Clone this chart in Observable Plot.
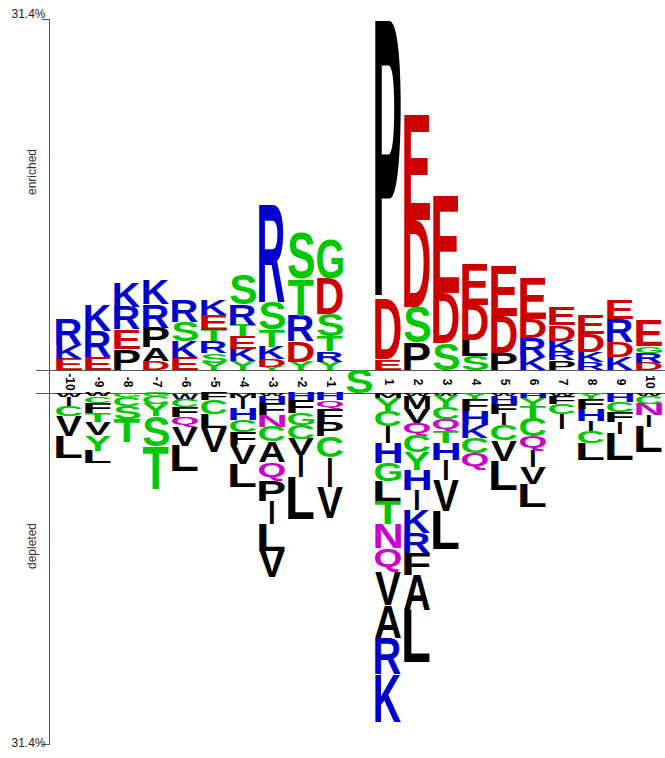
<!DOCTYPE html>
<html>
<head>
<meta charset="utf-8">
<script src="https://cdn.jsdelivr.net/npm/d3@7"></script>
<script src="https://cdn.jsdelivr.net/npm/@observablehq/plot@0.6"></script>
<style>
  body { margin: 0; background: #fff; }
  #chart svg { display: block; }
</style>
</head>
<body>
<div id="chart"></div>
<script>
// Sequence positions relative to the fixed central residue
const positions = d3.range(-10, 11);
const centerResidue = "S";

// Over-represented residues per position, listed from the axis outward
const upLetters = [
  "EKR", "ERK", "PERK", "DAPRK", "EKSR", "YSRTEK", "YKETRS", "YDKTSR", "YDRTS", "YRTSDG",
  "",
  "EDP", "PSDE", "SDE", "SLDE", "PDE", "KRDE", "PRKDE", "RKDE", "KDRE", "DRGE"
];
const upHeights = [
  [1.0, 1.25, 2.3],
  [1.15, 2.3, 2.3],
  [1.9, 1.75, 2.0, 2.25],
  [0.8, 1.2, 1.8, 2.1, 2.15],
  [1.1, 1.5, 1.7, 1.9],
  [0.65, 0.85, 1.05, 1.05, 1.35, 1.4],
  [0.8, 1.1, 1.1, 1.05, 1.8, 2.75],
  [0.3, 0.7, 1.1, 1.5, 2.5, 8.75],
  [0.75, 1.85, 2.25, 3.3, 4.1],
  [0.75, 0.95, 1.35, 1.95, 3.15, 3.5],
  [],
  [0.95, 5.4, 24.95],
  [2.45, 3.15, 7.8, 9.4],
  [2.4, 4.5, 8.75],
  [1.25, 1.45, 3.15, 3.6],
  [1.55, 3.3, 4.5],
  [1.15, 1.75, 1.65, 3.65],
  [0.85, 0.75, 1.0, 1.4, 1.55],
  [0.7, 0.9, 1.6, 1.7],
  [1.15, 1.35, 2.05, 1.7],
  [0.65, 0.9, 0.6, 2.3]
];

// Under-represented residues per position, listed from the axis outward
const downLetters = [
  "WICVL", "WCFTVYL", "GCST", "GCYST", "WCFQVL", "FCLV", "MIHCFVL", "WHFNCAQPILV", "HFGCVIL", "HQFPCIV",
  "",
  "MYCIHGLTNQVARK", "WMVQCYHIKRFAL", "WYCQTHIVL", "YFHKCQ", "WHFICVL", "HYTCQIVL", "WFCI", "YFHICL", "HCFIL", "WCNIL"
];
const downHeights = [
  [0.35, 0.8, 0.9, 1.8, 1.95],
  [0.3, 0.6, 0.9, 0.8, 1.15, 1.4, 1.15],
  [0.35, 0.8, 1.15, 2.05],
  [0.3, 0.65, 1.1, 2.7, 3.85],
  [0.6, 0.65, 0.9, 0.9, 1.7, 2.25],
  [0.65, 1.25, 1.25, 2.15],
  [0.45, 1.0, 1.0, 1.05, 1.15, 1.7, 2.05],
  [0.25, 0.7, 1.0, 1.05, 1.35, 1.8, 1.7, 1.8, 2.05, 2.4, 2.35],
  [0.65, 1.15, 1.05, 1.25, 1.45, 1.95, 3.75],
  [0.65, 0.8, 1.15, 1.25, 1.9, 2.7, 2.7],
  [],
  [0.45, 1.15, 1.35, 1.5, 1.8, 1.6, 1.8, 2.05, 2.15, 2.15, 2.95, 2.95, 3.2, 4.3],
  [0.25, 1.15, 1.25, 1.15, 1.5, 1.6, 1.8, 1.8, 2.05, 1.8, 1.95, 3.15, 4.65],
  [0.25, 1.0, 1.05, 1.15, 1.05, 1.5, 1.8, 2.75, 3.4],
  [0.55, 1.05, 1.25, 1.15, 1.35, 1.5],
  [0.25, 0.7, 0.9, 1.05, 1.35, 1.8, 2.6],
  [0.45, 0.8, 1.0, 1.6, 1.35, 1.45, 1.5, 2.05],
  [0.25, 0.7, 0.9, 1.35],
  [0.55, 0.9, 1.05, 0.9, 1.05, 1.5],
  [0.8, 0.9, 0.9, 1.05, 2.35],
  [0.25, 0.7, 1.05, 1.0, 2.25]
];

// Axis extent (percent) and side labels
const axisMax = 31.4;
const sideLabels = ["enriched", "depleted"];

// Residue colouring by chemistry
const chemistryGroups = ["DE", "KRH", "STYCG", "NQ", "AVLIPWFM"];
const groupColors = ["#cc0000", "#0000cc", "#00c800", "#cc00cc", "#000000"];

// Height of the position-label band, in y units
const gap = 2.06;

const colorOf = (c) => groupColors[chemistryGroups.findIndex((g) => g.includes(c))];

// Stack each column's residues outward from the label band
const cells = [];
positions.forEach((p, i) => {
  let y = 0;
  [...upLetters[i]].forEach((c, j) => {
    const h = upHeights[i][j];
    cells.push({pos: p, letter: c, y1: y, y2: y + h});
    y += h;
  });
  y = -gap;
  [...downLetters[i]].forEach((c, j) => {
    const h = downHeights[i][j];
    cells.push({pos: p, letter: c, y1: y, y2: y - h});
    y -= h;
  });
});
cells.push({pos: 0, letter: centerResidue, y1: 0, y2: -gap});

const FONT = "Liberation Sans, Arial, Helvetica, sans-serif";

const plot = Plot.plot({
  width: 665,
  height: 758,
  marginLeft: 49,
  marginRight: 0,
  marginTop: 19,
  marginBottom: 14,
  x: {type: "band", domain: positions, range: [47, 672], padding: 0.1, axis: null},
  y: {domain: [-(axisMax + gap), axisMax], axis: null},
  color: {type: "identity"},
  style: {background: "white", fontFamily: FONT, overflow: "hidden"},
  marks: [
    Plot.ruleY([0, -gap], {stroke: "#555", strokeWidth: 1, insetLeft: -13}),
    Plot.frame({anchor: "left", stroke: "#555"}),
    Plot.axisY([axisMax, -(axisMax + gap)], {tickSize: 7, tickFormat: () => "", stroke: "#555"}),
    Plot.text([axisMax], {y: (d) => d, text: () => `${axisMax}%`, frameAnchor: "left", textAnchor: "end", dx: -4, dy: -5, fontSize: 12, fill: "#222"}),
    Plot.text([-(axisMax + gap)], {y: (d) => d, text: () => `${axisMax}%`, frameAnchor: "left", textAnchor: "end", dx: -4, dy: -1, fontSize: 12, fill: "#222"}),
    Plot.text(sideLabels, {
      y: [axisMax / 2, -(gap + axisMax / 2)],
      text: (d) => d,
      frameAnchor: "left",
      dx: -17,
      rotate: -90,
      fontSize: 12,
      fill: "#333"
    }),
    Plot.text(positions.filter((p) => p !== 0), {
      x: (d) => d,
      y: -gap / 2,
      text: (d) => `${d}`,
      rotate: 90,
      fontSize: 12,
      fontWeight: "bold",
      fill: "#000"
    }),
    Plot.barY(cells, {
      x: "pos",
      y1: "y1",
      y2: "y2",
      fill: (d) => colorOf(d.letter),
      title: "letter"
    })
  ]
});

document.getElementById("chart").appendChild(plot);

// Replace each residue bar with its letter, stretched to fill the bar
const ctx = document.createElement("canvas").getContext("2d");
const glyphFont = 'bold 100px "Liberation Sans"';
ctx.font = glyphFont;
const inkCache = new Map();
function ink(c) {
  if (!inkCache.has(c)) {
    const m = ctx.measureText(c);
    inkCache.set(c, {
      L: m.actualBoundingBoxLeft,
      R: m.actualBoundingBoxRight,
      A: m.actualBoundingBoxAscent,
      D: m.actualBoundingBoxDescent
    });
  }
  return inkCache.get(c);
}

const svgNS = "http://www.w3.org/2000/svg";
const residueRects = [...plot.querySelectorAll("rect")].filter((r) => r.querySelector("title"));
for (const rect of residueRects) {
  const letter = rect.querySelector("title").textContent;
  let x = +rect.getAttribute("x");
  let w = +rect.getAttribute("width");
  const y = +rect.getAttribute("y");
  const h = +rect.getAttribute("height");
  const fill = rect.getAttribute("fill") || colorOf(letter);
  if (letter === "I") { x += w * 0.42; w *= 0.16; }
  const b = ink(letter);
  const sx = w / (b.L + b.R);
  const sy = h / (b.A + b.D);
  const t = document.createElementNS(svgNS, "text");
  t.textContent = letter;
  t.style.font = glyphFont;
  t.setAttribute("text-anchor", "start");
  t.setAttribute("fill", fill);
  t.setAttribute("transform", `translate(${x + b.L * sx},${y + b.A * sy}) scale(${sx},${sy})`);
  rect.replaceWith(t);
}
</script>
</body>
</html>
